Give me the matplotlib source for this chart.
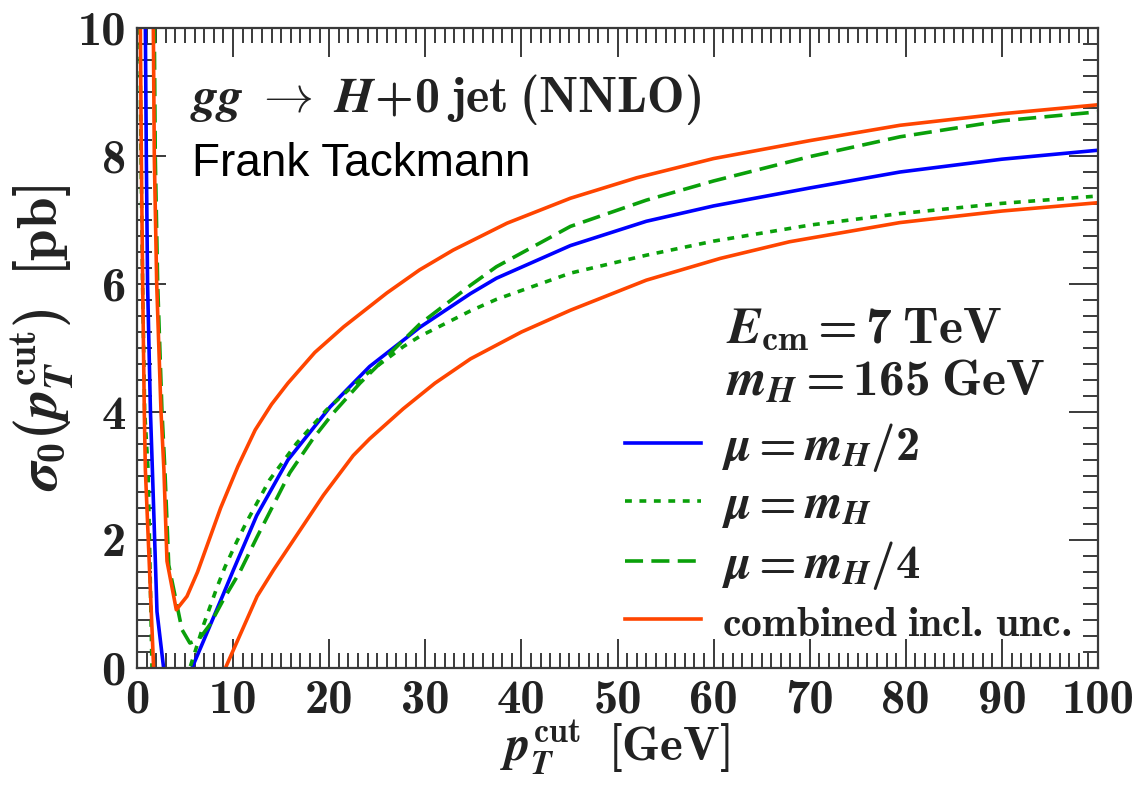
import matplotlib
matplotlib.use("Agg")
import matplotlib.pyplot as plt
from matplotlib.ticker import MultipleLocator

# ---------------- data ----------------
pt_half = [0.75, 0.87, 0.97, 1.1, 1.4, 1.6, 2.08, 2.77, 3.3, 5.0, 5.72, 6.94, 9.0, 10.0,
           12.45, 15.7, 20.1, 22.5, 24.2, 27.7, 29.4, 34.7, 37.4, 45.1, 53.0, 60.0,
           70.0, 79.4, 90.0, 100.0]
sig_half = [12.0, 10.0, 8.0, 6.0, 4.0, 3.1, 0.88, 0.0, -0.6, -0.6, 0.0, 0.43, 1.16, 1.52,
            2.38, 3.25, 4.08, 4.45, 4.71, 5.12, 5.32, 5.85, 6.09, 6.60, 6.98, 7.22,
            7.50, 7.75, 7.95, 8.09]

pt_mh = [0.15, 0.3, 0.42, 0.58, 0.8, 1.15, 1.35, 1.56, 2.0, 5.0, 5.5, 6.94, 8.3, 9.16,
         10.4, 11.4, 13.8, 16.6, 19.7, 23.5, 27.7, 29.4, 34.7, 37.4, 45.1, 53.0, 60.0,
         70.0, 79.4, 90.0, 100.0]
sig_mh = [12.0, 10.0, 8.0, 6.0, 4.0, 3.1, 1.6, 0.0, -0.7, -0.5, 0.0, 0.68, 1.25, 1.58,
          1.98, 2.28, 2.94, 3.51, 4.03, 4.55, 5.02, 5.18, 5.58, 5.76, 6.17, 6.45, 6.67,
          6.92, 7.10, 7.26, 7.375]

pt_quarter = [1.7, 1.8, 1.9, 2.15, 2.6, 2.9, 3.3, 4.68, 5.5, 6.4, 7.6, 9.0, 10.7, 12.5,
              15.9, 18.3, 20.4, 23.2, 27.7, 29.4, 34.7, 37.4, 45.1, 53.0, 60.0, 70.0,
              79.4, 90.0, 100.0]
sig_quarter = [12.0, 10.0, 8.0, 6.0, 4.0, 3.1, 1.61, 0.60, 0.39, 0.44, 0.68, 1.07, 1.50,
               2.05, 3.05, 3.58, 3.98, 4.45, 5.12, 5.37, 5.98, 6.27, 6.90, 7.31, 7.61,
               7.99, 8.30, 8.55, 8.69]

pt_lo = [0.2, 0.35, 0.45, 0.59, 0.76, 0.87, 1.73, 2.2, 5.0, 8.0, 9.2, 12.5, 14.2, 19.4,
         22.5, 24.2, 27.7, 31.0, 34.7, 40.0, 45.1, 53.0, 60.7, 67.9, 79.4, 90.0, 100.0]
sig_lo = [12.0, 10.0, 8.0, 6.0, 4.0, 3.1, 0.0, -0.8, -1.5, -0.45, 0.0, 1.12, 1.53, 2.70,
          3.32, 3.58, 4.05, 4.45, 4.83, 5.25, 5.59, 6.06, 6.40, 6.66, 6.96, 7.14, 7.27]

pt_hi = [1.6, 1.7, 1.8, 2.05, 2.5, 2.8, 3.12, 4.09, 5.2, 6.3, 8.7, 10.5, 12.3, 14.0,
         15.7, 18.5, 21.5, 26.0, 29.4, 32.9, 38.5, 45.1, 52.0, 60.0, 70.0, 79.4, 90.0,
         100.0]
sig_hi = [12.0, 10.0, 8.0, 6.0, 4.0, 3.1, 1.67, 0.91, 1.12, 1.5, 2.5, 3.15, 3.72, 4.12,
          4.45, 4.93, 5.33, 5.86, 6.22, 6.53, 6.95, 7.34, 7.66, 7.96, 8.24, 8.48, 8.66,
          8.80]

x_ticks = [0, 10, 20, 30, 40, 50, 60, 70, 80, 90, 100]
y_ticks = [0, 2, 4, 6, 8, 10]

labels = [r'$\mu = m_H/2$', r'$\mu = m_H$', r'$\mu = m_H/4$',
          r'$\mathrm{combined\ incl.\,unc.}$']

# ---------------- style ----------------
plt.rcParams['mathtext.fontset'] = 'custom'
plt.rcParams['mathtext.rm'] = 'cmb10'
plt.rcParams['mathtext.bf'] = 'cmb10'
plt.rcParams['mathtext.it'] = 'STIXGeneral:italic:bold'
plt.rcParams['mathtext.fallback'] = 'cm'
plt.rcParams['font.family'] = 'cmb10'

BLUE = '#0000ff'
GREEN = '#0aa00a'
RED = '#ff4500'
AXC = '#3a3a3a'
TXT = '#222222'
LW = 2.6

fig = plt.figure(figsize=(11.4, 7.86), dpi=100)
ax = fig.add_axes([137 / 1140, 1 - 668 / 786, (1098 - 137) / 1140, (668 - 28) / 786])

ax.plot(pt_half, sig_half, color=BLUE, lw=LW, label=labels[0])
ax.plot(pt_mh, sig_mh, color=GREEN, lw=LW, ls=(0, (1.9, 2.1)), label=labels[1])
ax.plot(pt_quarter, sig_quarter, color=GREEN, lw=LW, ls=(0, (5.0, 2.3)), label=labels[2])
ax.plot(pt_lo, sig_lo, color=RED, lw=LW, label=labels[3])
ax.plot(pt_hi, sig_hi, color=RED, lw=LW)

ax.set_xlim(0, 100)
ax.set_ylim(0, 10)
ax.set_xticks(x_ticks)
ax.set_yticks(y_ticks)
ax.xaxis.set_minor_locator(MultipleLocator(1))
ax.yaxis.set_minor_locator(MultipleLocator(0.25))
ax.tick_params(which='both', direction='in', top=True, right=True, color=AXC,
               width=1.4, labelsize=35, labelcolor=TXT)
ax.tick_params(which='major', length=21, pad=8)
ax.tick_params(which='minor', length=10.5)
for s in ax.spines.values():
    s.set_color(AXC)
    s.set_linewidth(1.6)

# axis labels
fig.text(43 / 1140, 1 - 338 / 786, r'$\sigma_0(p_T^{\mathrm{cut}})\ \ [\mathrm{pb}]$',
         rotation=90, ha='center', va='center', fontsize=41, color=TXT)
fig.text(615 / 1140, 1 - 748 / 786, r'$p_T^{\mathrm{cut}}\ \ [\mathrm{GeV}]$',
         ha='center', va='center', fontsize=35, color=TXT)

# annotations
ax.text(0.055, 0.869, r'$gg\ \rightarrow\ H\!+\!0\;\mathrm{jet}\;\mathrm{(NNLO)}$',
        transform=ax.transAxes, fontsize=36, va='baseline', ha='left', color=TXT)
ax.text(0.057, 0.769, 'Frank Tackmann', transform=ax.transAxes, fontsize=33,
        family='Liberation Sans', va='baseline', ha='left', color='black')
ax.text(0.613, 0.507, r'$E_{\mathrm{cm}} = 7\;\mathrm{TeV}$', transform=ax.transAxes,
        fontsize=37, va='baseline', ha='left', color=TXT)
ax.text(0.613, 0.425, r'$m_H = 165\;\mathrm{GeV}$', transform=ax.transAxes,
        fontsize=37, va='baseline', ha='left', color=TXT)

leg = ax.legend(loc='upper left', bbox_to_anchor=(0.508, 0.386), frameon=False,
                fontsize=35, handlelength=1.55, handletextpad=0.45, labelspacing=0.2,
                borderpad=0, borderaxespad=0)
for t in leg.get_texts():
    t.set_color(TXT)
leg.get_texts()[3].set_fontsize(30)

fig.savefig('out.png', dpi=100)
